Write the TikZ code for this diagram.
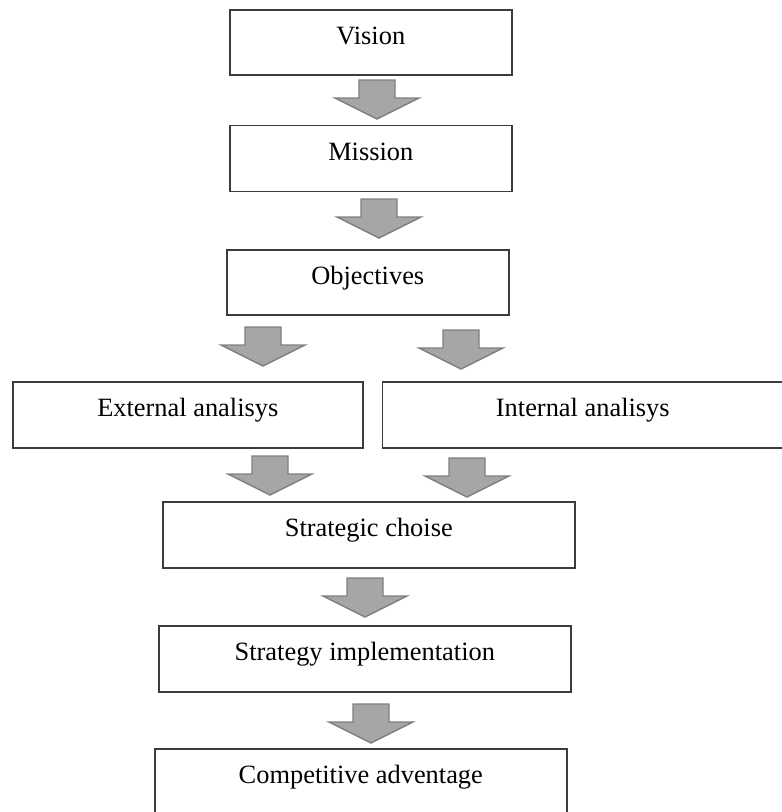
\documentclass[tikz,border=0pt]{standalone}
\usepackage{fontspec}
\setmainfont{Liberation Serif}
\definecolor{boxline}{HTML}{3C3C3C}
\definecolor{arrowfill}{HTML}{A6A6A6}
\definecolor{arrowline}{HTML}{7F7F7F}
\tikzset{
  stepbox/.style={draw=boxline, line width=1.6pt, fill=white, inner sep=0pt,
    anchor=north west, text height=20pt, text depth=16pt,
    font=\fontsize{26.4}{30}\selectfont},
  blockarrow/.pic={
    \filldraw[fill=arrowfill, draw=arrowline, line width=1.4pt, line join=miter]
      (-18,0) -- (18,0) -- (18,-18) -- (42,-18) -- (0,-39) -- (-42,-18) -- (-18,-18) -- cycle;
  }
}
\begin{document}
\begin{tikzpicture}[x=1pt,y=1pt]
\useasboundingbox (0,0) rectangle (782,-812);
\node[stepbox, minimum width=282pt, minimum height=65pt] (vision) at (229,-9) {Vision};
\node[stepbox, minimum width=282pt, minimum height=66pt] (mission) at (229,-124.5) {Mission};
\node[stepbox, minimum width=282pt, minimum height=65pt] (objectives) at (226,-249) {Objectives};
\node[stepbox, minimum width=350pt, minimum height=66pt] (external) at (12,-381) {External analisys};
\node[stepbox, minimum width=401pt, minimum height=66pt] (internal) at (381.5,-381) {Internal analisys};
\node[stepbox, minimum width=412pt, minimum height=66pt] (choice) at (162,-501) {Strategic choise};
\node[stepbox, minimum width=412pt, minimum height=66pt] (impl) at (158,-625) {Strategy implementation};
\node[stepbox, minimum width=412pt, minimum height=66pt] (advantage) at (154,-748) {Competitive adventage};
\pic (a1) at (377,-80) {blockarrow};
\pic (a2) at (379,-199) {blockarrow};
\pic (a3) at (263,-327) {blockarrow};
\pic (a4) at (461,-330) {blockarrow};
\pic (a5) at (270,-456) {blockarrow};
\pic (a6) at (467,-458) {blockarrow};
\pic (a7) at (365,-578) {blockarrow};
\pic (a8) at (371,-704) {blockarrow};
\end{tikzpicture}
\end{document}
